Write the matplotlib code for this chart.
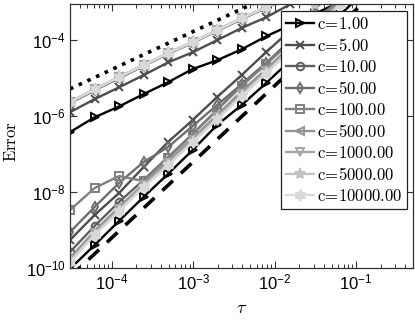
import matplotlib
matplotlib.use("Agg")
import matplotlib.pyplot as plt
from matplotlib.ticker import LogLocator, NullLocator, NullFormatter

# tick labels in a Helvetica-like face, everything else in Computer Modern
plt.rcParams["mathtext.fontset"] = "custom"
plt.rcParams["mathtext.rm"] = "Liberation Sans"
plt.rcParams["mathtext.it"] = "Liberation Sans:italic"
plt.rcParams["font.family"] = "Liberation Sans"

# time steps tau = 2^-15 ... 2^-3
tau = [3.05e-5, 6.10e-5, 1.22e-4, 2.44e-4, 4.88e-4, 9.77e-4, 1.95e-3,
       3.91e-3, 7.81e-3, 1.56e-2, 3.13e-2, 6.25e-2, 1.25e-1]

c_labels = ["c=1.00", "c=5.00", "c=10.00", "c=50.00", "c=100.00",
            "c=500.00", "c=1000.00", "c=5000.00", "c=10000.00"]

# upper (first order) family of error curves
err_hi_c1 = [3.8e-7, 9.3e-7, 1.8e-6, 3.8e-6, 7.8e-6, 1.74e-5, 2.95e-5, 5.75e-5, 1.26e-4, 2.5e-4, 5.0e-4, 1.0e-3, 2.0e-3]
err_hi_c5 = [1.27e-6, 2.8e-6, 5.75e-6, 1.2e-5, 2.6e-5, 4.8e-5, 1.0e-4, 2.1e-4, 4.0e-4, 8.9e-4, 1.8e-3]
err_hi_c10 = [2.2e-6, 4.8e-6, 1.0e-5, 2.1e-5, 4.4e-5, 8.5e-5, 1.75e-4, 3.6e-4, 7.1e-4, 1.45e-3]
err_hi_c50 = [2.3e-6, 5.0e-6, 1.05e-5, 2.15e-5, 4.5e-5, 8.8e-5, 1.8e-4, 3.7e-4, 7.3e-4, 1.47e-3]
err_hi_c100 = [2.3e-6, 5.05e-6, 1.06e-5, 2.2e-5, 4.55e-5, 8.85e-5, 1.81e-4, 3.75e-4, 7.35e-4, 1.48e-3]
err_hi_c500 = [2.33e-6, 5.1e-6, 1.07e-5, 2.2e-5, 4.6e-5, 8.9e-5, 1.82e-4, 3.8e-4, 7.4e-4, 1.48e-3]
err_hi_c1000 = [2.34e-6, 5.1e-6, 1.07e-5, 2.2e-5, 4.6e-5, 8.9e-5, 1.82e-4, 3.8e-4, 7.4e-4, 1.48e-3]
err_hi_c5000 = [2.34e-6, 5.1e-6, 1.07e-5, 2.2e-5, 4.6e-5, 8.9e-5, 1.82e-4, 3.8e-4, 7.4e-4, 1.48e-3]
err_hi_c10000 = [2.34e-6, 5.1e-6, 1.07e-5, 2.2e-5, 4.6e-5, 8.9e-5, 1.82e-4, 3.8e-4, 7.4e-4, 1.48e-3]

# lower (second order) family of error curves
err_lo_c1 = [9.5e-11, 4.0e-10, 1.73e-9, 7.4e-9, 3.0e-8, 1.27e-7, 5.8e-7, 1.95e-6, 7.4e-6, 2.95e-5, 1.12e-4, 4.6e-4, 1.8e-3]
err_lo_c5 = [5.46e-10, 2.48e-9, 9.4e-9, 4.55e-8, 2.07e-7, 7.85e-7, 3.16e-6, 1.2e-5, 4.83e-5, 1.83e-4, 6.95e-4, 2.5e-3]
err_lo_c10 = [2.64e-10, 1.27e-9, 5.46e-9, 2.07e-8, 8.3e-8, 3.36e-7, 1.44e-6, 6.95e-6, 2.48e-5, 1.0e-4, 3.36e-4, 9.5e-4, 3.0e-3]
err_lo_c50 = [8.85e-10, 4.03e-9, 1.73e-8, 6.17e-8, 1.53e-7, 5.46e-7, 1.95e-6, 6.95e-6, 2.48e-5, 8.85e-5, 3.36e-4, 1.12e-3]
err_lo_c100 = [3.36e-9, 1.27e-8, 2.64e-8, 1.95e-8, 7.85e-8, 3.36e-7, 1.44e-6, 6.17e-6, 2.33e-5, 8.85e-5, 3.36e-4, 1.12e-3]
err_lo_c500 = [1.83e-10, 9.4e-10, 4.03e-9, 1.63e-8, 6.55e-8, 2.64e-7, 1.06e-6, 4.55e-6, 1.73e-5, 6.9e-5, 2.6e-4, 1.0e-3, 3.5e-3]
err_lo_c1000 = [1.62e-10, 8.3e-10, 3.57e-9, 1.53e-8, 5.8e-8, 2.33e-7, 9.4e-7, 3.8e-6, 1.53e-5, 6.2e-5, 2.35e-4, 9.1e-4, 3.5e-3]
err_lo_c5000 = [1.44e-10, 7.4e-10, 3.16e-9, 1.35e-8, 5.1e-8, 2.07e-7, 8.3e-7, 3.36e-6, 1.35e-5, 5.5e-5, 8.5e-4, 3.2e-3]
err_lo_c10000 = [1.44e-10, 7.4e-10, 3.16e-9, 1.35e-8, 5.1e-8, 2.07e-7, 8.3e-7, 3.36e-6, 1.35e-5, 5.5e-5, 2.07e-4, 8.3e-4, 3.2e-3]

# reference slopes (order 1 dotted, order 2 dashed), given by end points
ref1_tau = [3.05e-5, 0.5]
ref1_err = [5.2e-6, 8.5e-2]
ref2_tau = [3.05e-5, 0.5]
ref2_err = [5.86e-11, 1.6e-2]

err_hi = [err_hi_c1, err_hi_c5, err_hi_c10, err_hi_c50, err_hi_c100,
          err_hi_c500, err_hi_c1000, err_hi_c5000, err_hi_c10000]
err_lo = [err_lo_c1, err_lo_c5, err_lo_c10, err_lo_c50, err_lo_c100,
          err_lo_c500, err_lo_c1000, err_lo_c5000, err_lo_c10000]

colors = ["#000000", "#4d4d4d", "#5e5e5e", "#6e6e6e", "#808080",
          "#939393", "#a6a6a6", "#c2c2c2", "#d9d9d9"]
markers = [">", "x", "o", "d", "s", "<", "v", "*", (6, 1, 0)]

fig = plt.figure(figsize=(4.15, 3.2), dpi=100)
ax = fig.add_axes([0.1687, 0.1625, 0.8265, 0.825])

handles = []
for i in range(len(c_labels)):
    style = dict(color=colors[i], marker=markers[i], lw=1.7, ms=5.5,
                 mew=1.4, mfc="none")
    if markers[i] == "*" or isinstance(markers[i], tuple):
        style["mfc"] = colors[i]
        style["ms"] = 8
    h, = ax.loglog(tau[:len(err_hi[i])], err_hi[i], **style)
    ax.loglog(tau[:len(err_lo[i])], err_lo[i], **style)
    handles.append(h)

ax.loglog(ref1_tau, ref1_err, color="black", ls=":", lw=2.6)
ax.loglog(ref2_tau, ref2_err, color="black", ls=(0, (4, 3)), lw=2.6)

ax.set_xlim(3.05e-5, 0.5)
ax.set_ylim(1e-10, 9e-4)

ax.set_xticks([1e-4, 1e-3, 1e-2, 1e-1])
ax.xaxis.set_minor_locator(LogLocator(base=10, subs=range(2, 10), numticks=20))
ax.xaxis.set_minor_formatter(NullFormatter())
ax.set_yticks([1e-10, 1e-8, 1e-6, 1e-4])
ax.yaxis.set_minor_locator(NullLocator())

ax.tick_params(which="both", direction="in", top=True, right=True,
               labelsize=12, color="#333333")
ax.tick_params(which="major", length=5, width=0.8, pad=3)
ax.tick_params(which="minor", length=3, width=0.7)
for s in ax.spines.values():
    s.set_linewidth(0.9)
    s.set_color("#333333")

ax.set_ylabel(r"$\mathrm{Error}$", fontsize=12, math_fontfamily="cm")
ax.yaxis.set_label_coords(-0.148, 0.48)
ax.set_xlabel(r"$\tau$", fontsize=13, math_fontfamily="cm", labelpad=6)

leg = ax.legend(handles, [r"$\mathrm{c\!=\!%s}$" % l[2:] for l in c_labels],
                loc="upper right", bbox_to_anchor=(0.983, 0.975),
                fontsize=12, handlelength=1.7, handletextpad=0.15,
                labelspacing=0.3, borderpad=0.3, borderaxespad=0.0,
                fancybox=False, framealpha=1, edgecolor="#222222")
leg.get_frame().set_linewidth(0.9)
for t in leg.get_texts():
    t.set_math_fontfamily("cm")

fig.savefig("out.png", dpi=100)
